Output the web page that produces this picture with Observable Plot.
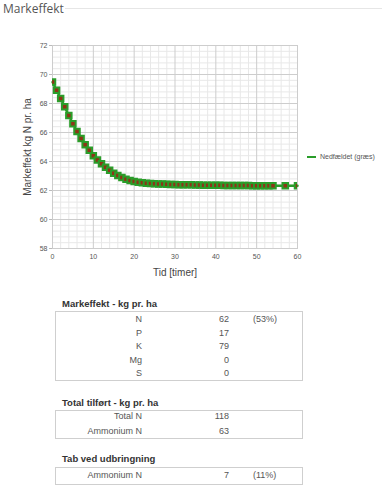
<!DOCTYPE html>
<html>
<head>
<meta charset="utf-8">
<script src="https://cdn.jsdelivr.net/npm/d3@7"></script>
<script src="https://cdn.jsdelivr.net/npm/@observablehq/plot@0.6"></script>
<style>
  html, body { margin: 0; padding: 0; background: #fff; }
  #wrap { position: relative; width: 382px; height: 486px; overflow: hidden; font-family: "Liberation Sans", Arial, sans-serif; }
  #title { position: absolute; left: 3px; top: 0px; font-family: "Open Sans", sans-serif; font-size: 12px; color: #555; }
  #rule { position: absolute; left: 65px; right: 0; top: 8px; border-top: 1px solid #e6e6e6; }
  #chart { position: absolute; left: 0; top: 0; }
  #chart svg g[aria-label="x-axis label"], #chart svg g[aria-label="y-axis label"] { font-size: 10px; fill: #444; }
  #legend { position: absolute; left: 307px; top: 153px; font-size: 7px; color: #555; white-space: nowrap; }
  #legend .sw { display: inline-block; width: 9px; height: 2px; background: #2a9d2a; vertical-align: middle; margin-right: 4px; }
  .ttl { position: absolute; left: 62px; font-size: 9.5px; font-weight: bold; color: #333; }
  .box { position: absolute; left: 55px; width: 246px; border: 1px solid #cfcfcf; }
  .cell { position: absolute; font-size: 9px; color: #555; white-space: nowrap; line-height: 10px; }
</style>
</head>
<body>
<div id="wrap">
  <div id="title">Markeffekt</div>
  <div id="rule"></div>
  <div id="chart"></div>
  <div id="legend"><span class="sw"></span>Nedfældet (græs)</div>
</div>
<script>
// Chart data
const hours = [0,1,2,3,4,5,6,7,8,9,10,11,12,13,14,15,16,17,18,19,20,21,22,23,24,25,26,27,28,29,30,31,32,33,34,35,36,37,38,39,40,41,42,43,44,45,46,47,48,49,50,51,52,53,54,57,60];
const markeffekt = [69.48,68.91,68.34,67.77,67.17,66.60,66.07,65.59,65.16,64.77,64.40,64.10,63.85,63.60,63.40,63.19,63.03,62.90,62.78,62.69,62.62,62.57,62.53,62.50,62.48,62.46,62.45,62.44,62.43,62.42,62.41,62.40,62.40,62.39,62.39,62.38,62.38,62.37,62.37,62.36,62.36,62.36,62.35,62.35,62.35,62.34,62.34,62.34,62.34,62.33,62.33,62.33,62.33,62.33,62.32,62.32,62.32];
const xTicks = [0,10,20,30,40,50,60];
const yTicks = [58,60,62,64,66,68,70,72];
const xMinor = [2,4,6,8,12,14,16,18,22,24,26,28,32,34,36,38,42,44,46,48,52,54,56,58];
const yMinor = [58.4,58.8,59.2,59.6,60.4,60.8,61.2,61.6,62.4,62.8,63.2,63.6,64.4,64.8,65.2,65.6,66.4,66.8,67.2,67.6,68.4,68.8,69.2,69.6,70.4,70.8,71.2,71.6];
const seriesName = "Nedfældet (græs)";

// Table data
const t1Title = "Markeffekt - kg pr. ha";
const t1Labels = ["N","P","K","Mg","S"];
const t1Values = ["62","17","79","0","0"];
const t1Pct = ["(53%)","","","",""];
const t2Title = "Total tilført - kg pr. ha";
const t2Labels = ["Total N","Ammonium N"];
const t2Values = ["118","63"];
const t3Title = "Tab ved udbringning";
const t3Labels = ["Ammonium N"];
const t3Values = ["7"];
const t3Pct = ["(11%)"];

const data = hours.map((h, i) => ({h, v: markeffekt[i]}));

const chart = Plot.plot({
  width: 382, height: 280,
  marginLeft: 52, marginRight: 85, marginTop: 45, marginBottom: 32,
  style: {fontFamily: "'Liberation Sans', Arial, sans-serif", fontSize: "7px", color: "#555", background: "transparent"},
  x: {domain: [0, 60], label: "Tid [timer]"},
  y: {domain: [58, 72], label: "Markeffekt kg N pr. ha"},
  marks: [
    Plot.ruleX(xMinor, {stroke: "#e8e8e8", strokeWidth: 1}),
    Plot.ruleY(yMinor, {stroke: "#e8e8e8", strokeWidth: 1}),
    Plot.ruleX(xTicks, {stroke: "#cdcdcd", strokeWidth: 1}),
    Plot.ruleY(yTicks, {stroke: "#cdcdcd", strokeWidth: 1}),
    Plot.frame({stroke: "#cdcdcd"}),
    Plot.axisX({ticks: xTicks, tickSize: 0, tickPadding: 6, label: "Tid [timer]", labelAnchor: "center", labelArrow: "none", labelOffset: 27}),
    Plot.axisY({ticks: yTicks, tickSize: 3, tickPadding: 2, stroke: "#bbb", label: "Markeffekt kg N pr. ha", labelAnchor: "center", labelArrow: "none", labelOffset: 29}),
    Plot.line(data, {x: "h", y: "v", stroke: "#2a9d2a", strokeWidth: 2.5}),
    Plot.dot(data, {x: "h", y: "v", symbol: "square", r: 3.1, fill: "#8e3417", stroke: "#2a9d2a", strokeWidth: 2, clip: true})
  ]
});
document.getElementById("chart").appendChild(chart);

const wrap = document.getElementById("wrap");
function addTable(title, titleY, boxTop, boxH, rowStart, rowH, labels, values, pcts) {
  const t = document.createElement("div");
  t.className = "ttl"; t.textContent = title; t.style.top = (titleY - 6) + "px";
  wrap.appendChild(t);
  const b = document.createElement("div");
  b.className = "box"; b.style.top = boxTop + "px"; b.style.height = boxH + "px";
  wrap.appendChild(b);
  labels.forEach((lab, i) => {
    const cy = rowStart + i * rowH - 5;
    const l = document.createElement("div");
    l.className = "cell"; l.textContent = lab; l.style.top = cy + "px";
    l.style.right = (382 - 142) + "px"; wrap.appendChild(l);
    const v = document.createElement("div");
    v.className = "cell"; v.textContent = values[i]; v.style.top = cy + "px";
    v.style.right = (382 - 229) + "px"; wrap.appendChild(v);
    if (pcts && pcts[i]) {
      const p = document.createElement("div");
      p.className = "cell"; p.textContent = pcts[i]; p.style.top = cy + "px";
      p.style.left = "253px"; wrap.appendChild(p);
    }
  });
}
addTable(t1Title, 304, 311, 68, 319, 13.5, t1Labels, t1Values, t1Pct);
addTable(t2Title, 403, 410, 27, 416, 15, t2Labels, t2Values, null);
addTable(t3Title, 459, 467, 16, 475, 15, t3Labels, t3Values, t3Pct);
</script>
</body>
</html>
